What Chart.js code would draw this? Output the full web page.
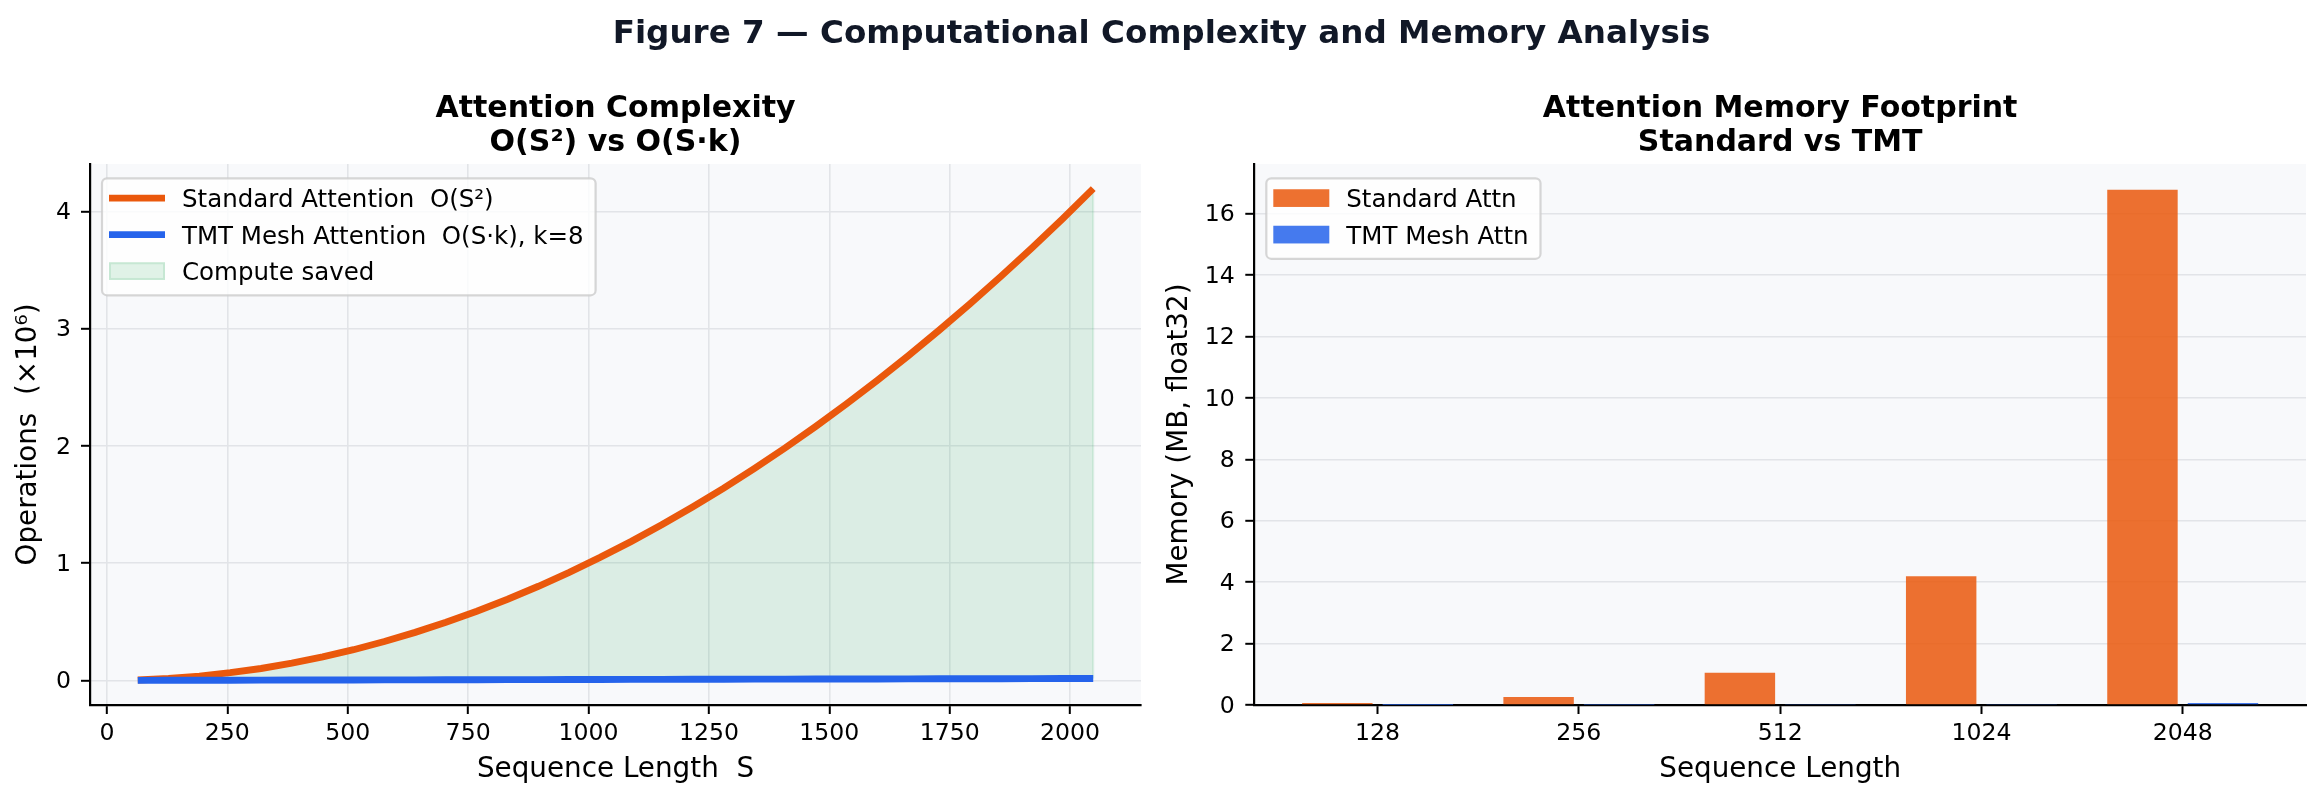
<!DOCTYPE html>
<html>
<head>
<meta charset="utf-8">
<script src="https://cdn.jsdelivr.net/npm/chart.js@4.4.1/dist/chart.umd.min.js"></script>
<style>
html,body{margin:0;padding:0;background:#ffffff;}
body{width:2323px;height:802px;position:relative;overflow:hidden;}
#c1wrap{position:absolute;left:0;top:0;width:1160px;height:802px;}
#c2wrap{position:absolute;left:1160px;top:0;width:1163px;height:802px;}
#suptitle{position:absolute;left:0;top:16.3px;width:2323px;text-align:center;font:bold 32.6px/1 "DejaVu Sans";color:#111827;white-space:pre;z-index:5;}
</style>
</head>
<body>
<div id="c1wrap"><canvas id="c1" width="1160" height="802"></canvas></div>
<div id="c2wrap"><canvas id="c2" width="1163" height="802"></canvas></div>
<div id="suptitle">Figure 7 — Computational Complexity and Memory Analysis</div>
<script>
// ---------------- data ----------------
const seqS = [64,128,192,256,320,384,448,512,576,640,704,768,832,896,960,1024,
              1088,1152,1216,1280,1344,1408,1472,1536,1600,1664,1728,1792,1856,1920,1984,2048];
// Standard attention operations (x10^6)
const stdOps = [0.004,0.016,0.037,0.066,0.102,0.147,0.201,0.262,0.332,0.410,0.496,0.590,0.692,0.803,0.922,1.049,
                1.184,1.327,1.479,1.638,1.806,1.982,2.167,2.359,2.560,2.769,2.986,3.211,3.445,3.686,3.936,4.194];
// TMT mesh attention operations (x10^6), k=8
const tmtOps = [0.0005,0.0010,0.0015,0.0020,0.0026,0.0031,0.0036,0.0041,0.0046,0.0051,0.0056,0.0061,0.0067,0.0072,0.0077,0.0082,
                0.0087,0.0092,0.0097,0.0102,0.0108,0.0113,0.0118,0.0123,0.0128,0.0133,0.0138,0.0143,0.0148,0.0154,0.0159,0.0164];
const opsXTicks = [0,250,500,750,1000,1250,1500,1750,2000];
const opsYTicks = [0,1,2,3,4];

const memSeqLabels = ['128','256','512','1024','2048'];
const stdMemMB = [0.066,0.262,1.049,4.194,16.777];
const tmtMemMB = [0.004,0.008,0.016,0.033,0.066];
const memYTicks = [0,2,4,6,8,10,12,14,16];

// ---------------- styling ----------------
Chart.defaults.font.family = '"DejaVu Sans"';
Chart.defaults.color = '#000000';

const ORANGE = '#ea580c';
const BLUE = '#2563eb';
const GRID = '#e2e4e8';
const AXBG = '#f8f9fb';

const areaBg = {
  id: 'areaBg',
  beforeDraw(chart, args, o) {
    const {ctx, chartArea: a} = chart;
    ctx.save();
    ctx.fillStyle = o.color;
    ctx.fillRect(a.left, a.top, a.right - a.left, a.bottom - a.top);
    ctx.restore();
  }
};

const subTitle = {
  id: 'subTitle',
  afterDraw(chart, args, o) {
    const {ctx, chartArea: a} = chart;
    ctx.save();
    ctx.font = 'bold ' + o.size + 'px "DejaVu Sans"';
    ctx.fillStyle = o.color;
    ctx.textAlign = 'center';
    ctx.textBaseline = 'alphabetic';
    o.lines.forEach((t, i) => ctx.fillText(t, (a.left + a.right) / 2, o.baselines[i]));
    ctx.restore();
  }
};

function roundRectPath(ctx, x, y, w, h, r) {
  ctx.beginPath();
  ctx.moveTo(x + r, y);
  ctx.lineTo(x + w - r, y);
  ctx.arcTo(x + w, y, x + w, y + r, r);
  ctx.lineTo(x + w, y + h - r);
  ctx.arcTo(x + w, y + h, x + w - r, y + h, r);
  ctx.lineTo(x + r, y + h);
  ctx.arcTo(x, y + h, x, y + h - r, r);
  ctx.lineTo(x, y + r);
  ctx.arcTo(x, y, x + r, y, r);
  ctx.closePath();
}

const boxLegend = {
  id: 'boxLegend',
  afterDraw(chart, args, o) {
    const {ctx, chartArea: a} = chart;
    const items = chart.data.datasets;
    ctx.save();
    ctx.font = o.fontSize + 'px "DejaVu Sans"';
    let tw = 0;
    items.forEach(d => { tw = Math.max(tw, ctx.measureText(d.label).width); });
    const x = a.left + o.offsetX, y = a.top + o.offsetY;
    const w = o.textX + tw + o.padRight;
    const h = o.padTop + o.rowH * (items.length - 1) + o.padBottom;
    roundRectPath(ctx, x, y, w, h, 5);
    ctx.fillStyle = 'rgba(255,255,255,0.8)';
    ctx.fill();
    ctx.lineWidth = 2.2;
    ctx.strokeStyle = 'rgba(204,204,204,0.8)';
    ctx.stroke();
    items.forEach((d, i) => {
      const cy = y + o.padTop + i * o.rowH;
      if (d.legendKind === 'line') {
        ctx.beginPath();
        ctx.lineCap = 'square';
        ctx.strokeStyle = d.borderColor;
        ctx.lineWidth = d.borderWidth;
        ctx.moveTo(x + o.handleX0 + d.borderWidth / 2, cy);
        ctx.lineTo(x + o.handleX1 - d.borderWidth / 2, cy);
        ctx.stroke();
      } else {
        ctx.fillStyle = d.backgroundColor;
        ctx.fillRect(x + o.handleX0, cy - o.patchH / 2, o.handleX1 - o.handleX0, o.patchH);
        if (d.legendEdge) {
          ctx.lineWidth = 2;
          ctx.strokeStyle = d.legendEdge;
          ctx.strokeRect(x + o.handleX0 + 1, cy - o.patchH / 2 + 1, o.handleX1 - o.handleX0 - 2, o.patchH - 2);
        }
      }
      ctx.fillStyle = '#000000';
      ctx.textAlign = 'left';
      ctx.textBaseline = 'alphabetic';
      ctx.fillText(d.label, x + o.textX, cy + 0.3645 * o.fontSize);
    });
    ctx.restore();
  }
};

// thin vertical edge of the filled region at the last sample (fill_between edge)
const fillEdge = {
  id: 'fillEdge',
  beforeDatasetsDraw(chart, args, o) {
    const ds = chart.data.datasets[o.index];
    if (!ds) return;
    const meta = chart.getDatasetMeta(o.index);
    const lower = chart.getDatasetMeta(o.target);
    const n = meta.data.length - 1;
    const p1 = meta.data[n], p2 = lower.data[n];
    const {ctx} = chart;
    ctx.save();
    ctx.strokeStyle = o.color;
    ctx.lineWidth = o.width;
    ctx.beginPath();
    ctx.moveTo(p1.x, p1.y);
    ctx.lineTo(p2.x, p2.y);
    ctx.stroke();
    ctx.restore();
  }
};

const legendOpts = {
  offsetX: 12, offsetY: 14.3, textX: 80, padRight: 12,
  padTop: 19.8, rowH: 36.5, padBottom: 24.2,
  handleX0: 7, handleX1: 63, patchH: 17.7, fontSize: 24.5
};

const tickFont = {size: 23.6};
const labelFont = {size: 27.8};

// ---------------- left chart: complexity ----------------
new Chart(document.getElementById('c1'), {
  type: 'line',
  data: {
    datasets: [
      {
        label: 'Standard Attention  O(S²)',
        data: seqS.map((s, i) => ({x: s, y: stdOps[i]})),
        borderColor: ORANGE, borderWidth: 6.9, pointRadius: 0, fill: false,
        order: 1, legendKind: 'line'
      },
      {
        label: 'TMT Mesh Attention  O(S·k), k=8',
        data: seqS.map((s, i) => ({x: s, y: tmtOps[i]})),
        borderColor: BLUE, borderWidth: 6.9, pointRadius: 0, fill: false,
        order: 0, legendKind: 'line'
      },
      {
        label: 'Compute saved',
        data: seqS.map((s, i) => ({x: s, y: stdOps[i]})),
        borderColor: 'rgba(0,0,0,0)', borderWidth: 1, pointRadius: 0,
        backgroundColor: 'rgba(22,163,74,0.13)', fill: 1,
        order: 2, legendKind: 'patch', legendEdge: 'rgba(22,163,74,0.13)'
      }
    ]
  },
  options: {
    responsive: false, animation: false, devicePixelRatio: 1,
    layout: {padding: {left: 0, right: 19, top: 164, bottom: 0}},
    plugins: {
      legend: {display: false}, tooltip: {enabled: false}, title: {display: false},
      areaBg: {color: AXBG},
      subTitle: {lines: ['Attention Complexity', 'O(S²) vs O(S·k)'], baselines: [117, 150.5], size: 30, color: '#000000'},
      boxLegend: legendOpts,
      fillEdge: {index: 2, target: 1, color: 'rgba(22,163,74,0.13)', width: 2}
    },
    scales: {
      x: {
        type: 'linear', min: -35.2, max: 2147.2,
        afterBuildTicks: s => { s.ticks = opsXTicks.map(v => ({value: v})); },
        afterFit: s => { s.height = 97; },
        grid: {color: GRID, lineWidth: 1.6, tickColor: '#000000', tickWidth: 2, tickLength: 9, drawTicks: true},
        border: {color: '#000000', width: 2.2},
        ticks: {font: tickFont, color: '#000000', padding: 5.9, maxRotation: 0, autoSkip: false,
                callback: v => String(v)},
        title: {display: true, text: 'Sequence Length  S', font: labelFont, color: '#000000', padding: {top: 0, bottom: 15.9}}
      },
      y: {
        type: 'linear', min: -0.2095, max: 4.404,
        afterBuildTicks: s => { s.ticks = opsYTicks.map(v => ({value: v})); },
        afterFit: s => { s.width = 90; },
        grid: {color: GRID, lineWidth: 1.6, tickColor: '#000000', tickWidth: 2, tickLength: 9, drawTicks: true},
        border: {color: '#000000', width: 2.2},
        ticks: {font: tickFont, color: '#000000', padding: 10, labelOffset: 1.5, autoSkip: false,
                callback: v => String(v)},
        title: {display: true, text: 'Operations  (×10⁶)', font: labelFont, color: '#000000', padding: {top: 12.2, bottom: 0}}
      }
    }
  },
  plugins: [areaBg, subTitle, boxLegend, fillEdge]
});

// ---------------- right chart: memory ----------------
new Chart(document.getElementById('c2'), {
  type: 'bar',
  data: {
    datasets: [
      {
        label: 'Standard Attn',
        data: stdMemMB.map((v, i) => ({x: i, y: v})),
        backgroundColor: 'rgba(234,88,12,0.85)', borderWidth: 0,
        categoryPercentage: 0.8, barPercentage: 0.875, legendKind: 'patch'
      },
      {
        label: 'TMT Mesh Attn',
        data: tmtMemMB.map((v, i) => ({x: i, y: v})),
        backgroundColor: 'rgba(37,99,235,0.85)', borderWidth: 0,
        categoryPercentage: 0.8, barPercentage: 0.875, legendKind: 'patch'
      }
    ]
  },
  options: {
    responsive: false, animation: false, devicePixelRatio: 1,
    layout: {padding: {left: 0, right: 17, top: 164, bottom: 0}},
    plugins: {
      legend: {display: false}, tooltip: {enabled: false}, title: {display: false},
      areaBg: {color: AXBG},
      subTitle: {lines: ['Attention Memory Footprint', 'Standard vs TMT'], baselines: [117, 150.5], size: 30, color: '#000000'},
      boxLegend: legendOpts
    },
    scales: {
      x: {
        type: 'linear', min: -0.6125, max: 4.6125, offset: false,
        afterBuildTicks: s => { s.ticks = memSeqLabels.map((_, i) => ({value: i})); },
        afterFit: s => { s.height = 97; },
        grid: {offset: false, drawOnChartArea: false, color: GRID, tickColor: '#000000', tickWidth: 2, tickLength: 9, drawTicks: true},
        border: {color: '#000000', width: 2.2},
        ticks: {font: tickFont, color: '#000000', padding: 5.9, maxRotation: 0, autoSkip: false,
                callback: v => memSeqLabels[Math.round(v)]},
        title: {display: true, text: 'Sequence Length', font: labelFont, color: '#000000', padding: {top: 0, bottom: 15.9}}
      },
      y: {
        type: 'linear', min: 0, max: 17.616,
        afterBuildTicks: s => { s.ticks = memYTicks.map(v => ({value: v})); },
        afterFit: s => { s.width = 94.3; },
        grid: {color: GRID, lineWidth: 1.6, tickColor: '#000000', tickWidth: 2, tickLength: 9, drawTicks: true},
        border: {color: '#000000', width: 2.2},
        ticks: {font: tickFont, color: '#000000', padding: 10.5, labelOffset: 1.5, autoSkip: false,
                callback: v => String(v)},
        title: {display: true, text: 'Memory (MB, float32)', font: labelFont, color: '#000000', padding: {top: 2.7, bottom: 0}}
      }
    }
  },
  plugins: [areaBg, subTitle, boxLegend]
});
</script>
</body>
</html>
